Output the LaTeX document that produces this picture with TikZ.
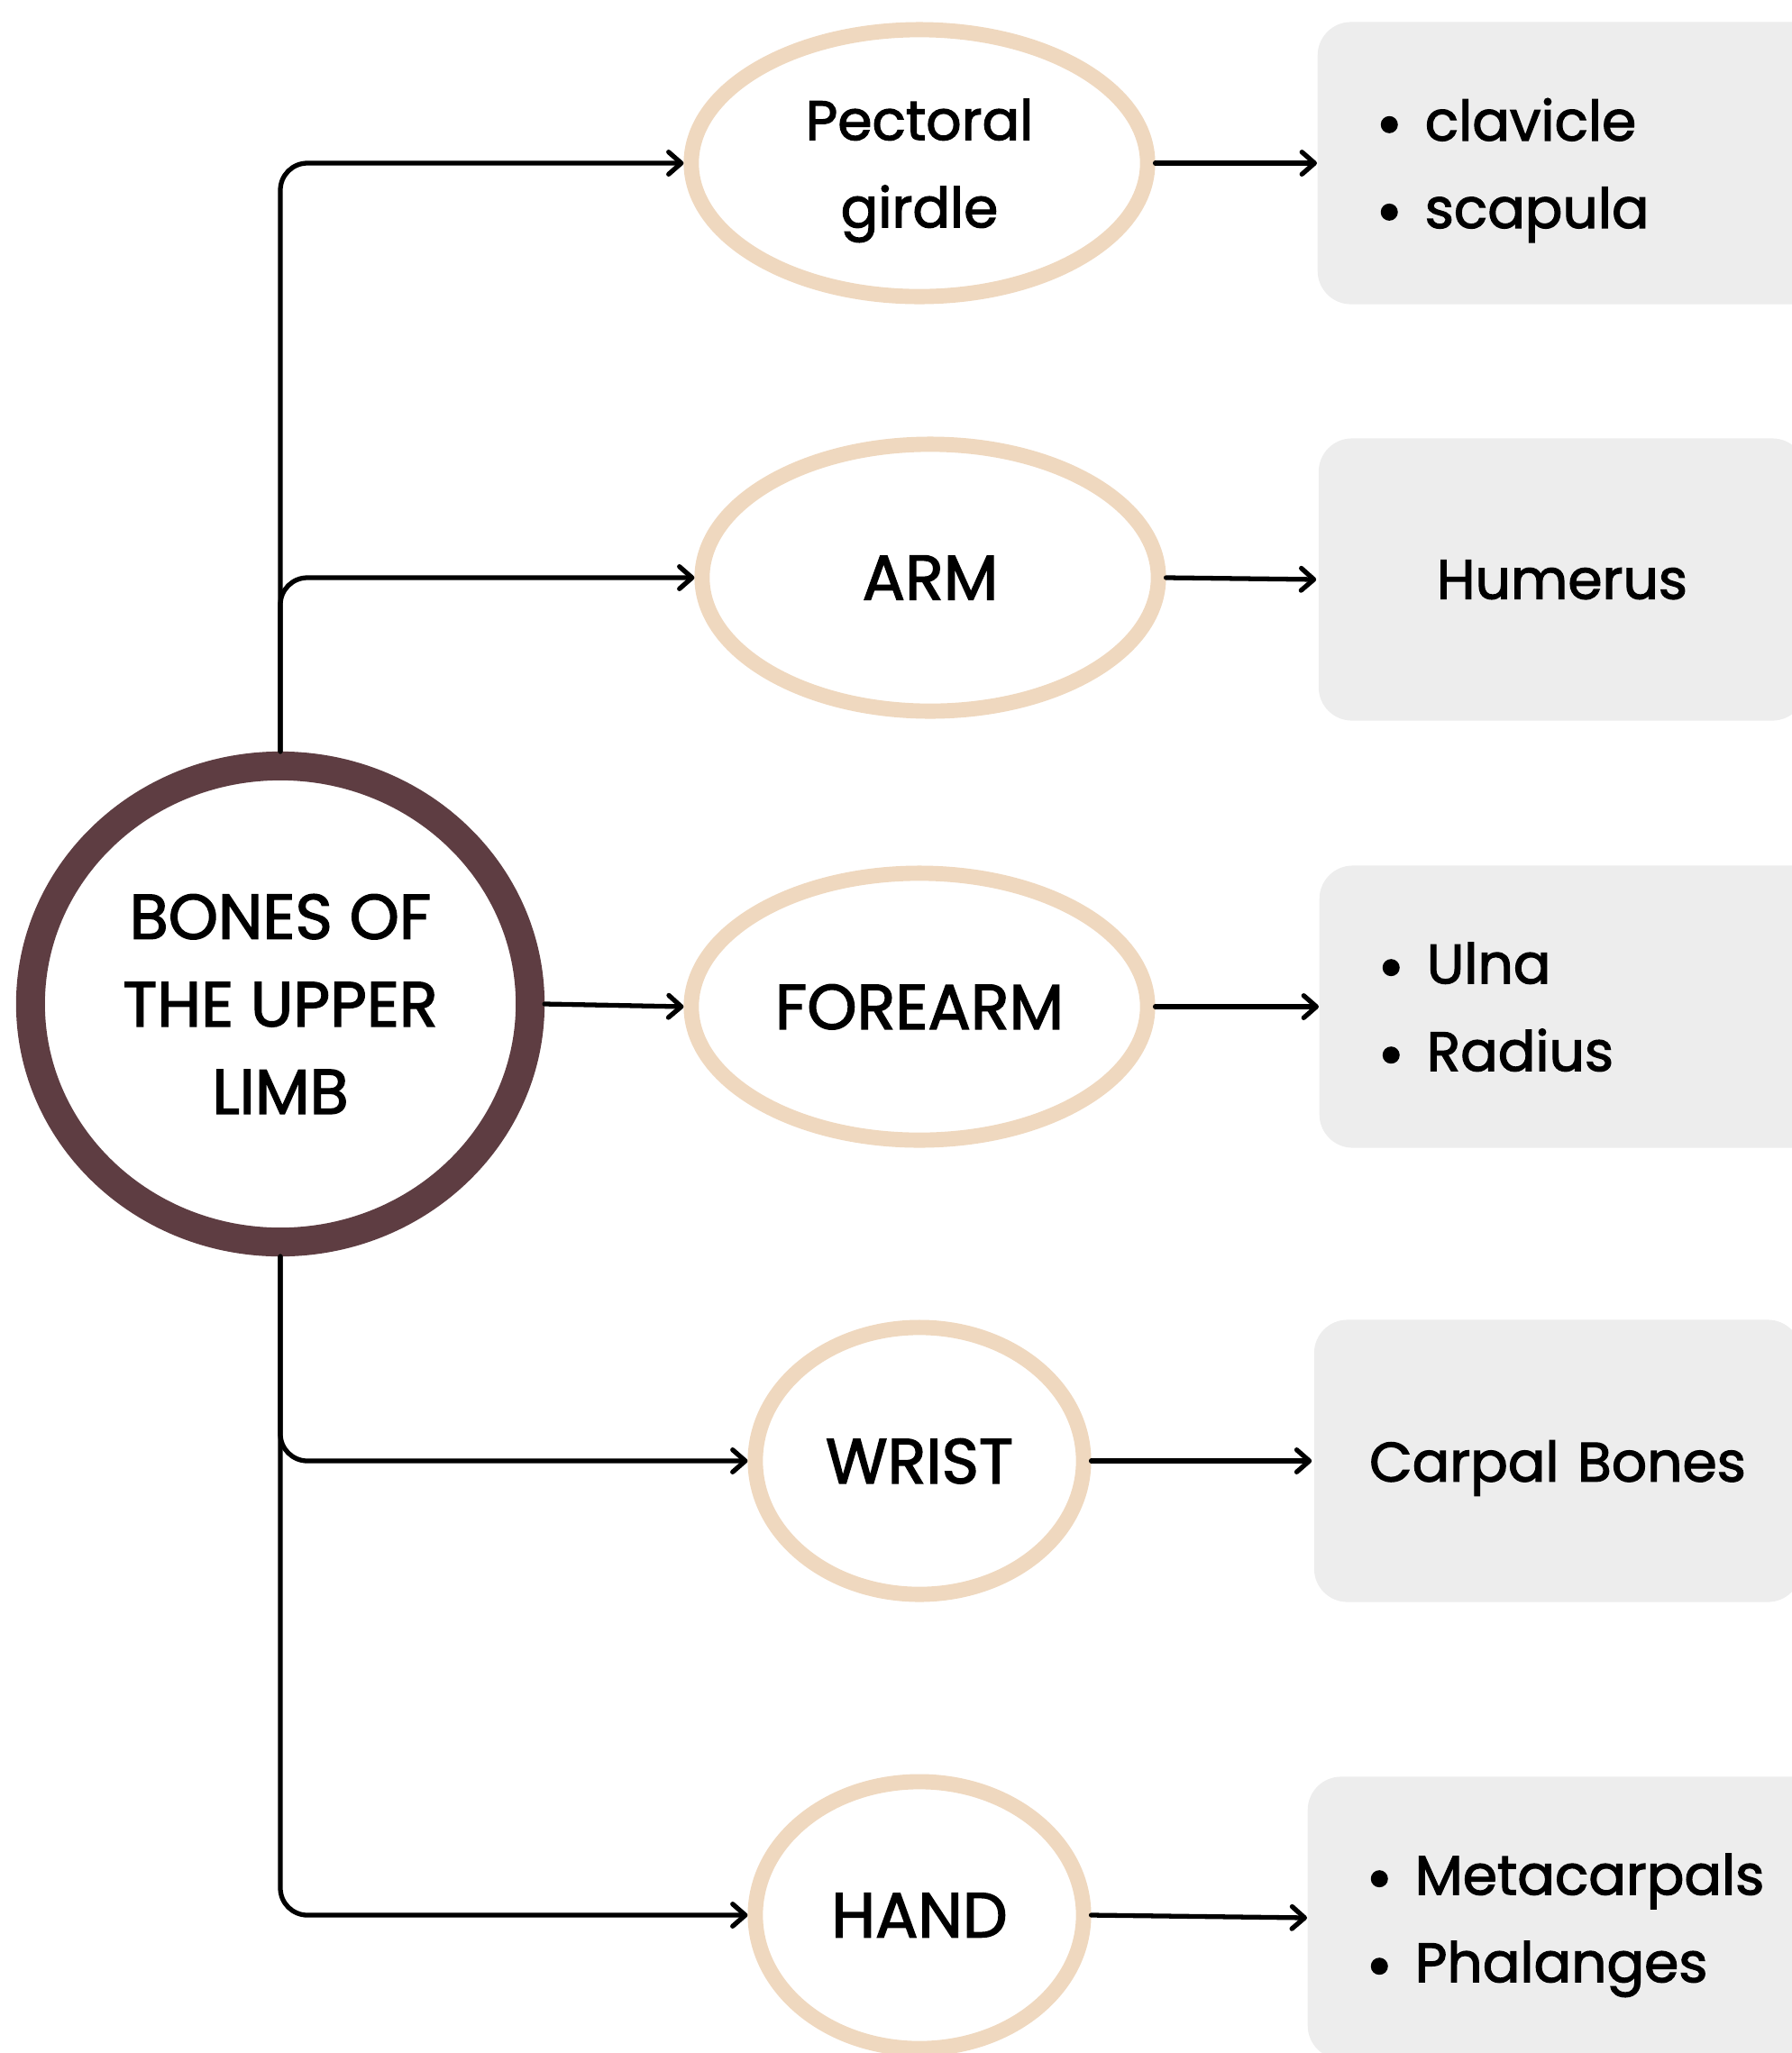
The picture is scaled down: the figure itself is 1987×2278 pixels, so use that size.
\documentclass[tikz,border=0pt]{standalone}
\usepackage{fontspec}
\setmainfont{Poppins}[FakeBold=2]
\usetikzlibrary{shapes.geometric, arrows.meta}
\definecolor{ringbrown}{HTML}{5E3D42}
\definecolor{beige}{HTML}{EFD8BF}
\definecolor{boxgray}{HTML}{EDEDED}
\newcommand\bul{\raisebox{2.3pt}{\tikz\fill circle (0.095cm);}\hspace{0.3cm}}
\tikzset{->,
         >={Straight Barb[length=4pt, width=7pt, round]},
         every node/.style={font=\fontsize{20}{27.6}\selectfont},
         hub/.style={ellipse, draw=ringbrown, line width=9.1pt, fill=white,
                     minimum width=5.54cm, minimum height=5.28cm, inner sep=0pt, align=center},
         part/.style={ellipse, draw=beige, line width=4.8pt, text depth=0pt,
                      minimum width=5.06cm, minimum height=2.96cm, inner sep=0pt, align=center},
         smallpart/.style={part, minimum width=3.64cm},
         lower/.style={font=\fontsize{17.5}{27.6}\selectfont},
         list/.style={rectangle, fill=boxgray, draw=none, rounded corners=0.37cm, lower,
                      minimum height=3.13cm, text width=4.6cm, inner xsep=0.7cm, text depth=27.6pt,
                      anchor=west, align=left},
         single/.style={list, anchor=center, text width=4.2cm, inner xsep=0.6cm, text depth=0pt,
                        align=center},
         branch/.style={rounded corners=0.3cm},
         }

\begin{document}
\begin{tikzpicture}[x=0.01cm, y=-0.01cm, line width=1.5pt, line cap=round]
    \useasboundingbox (0,0) rectangle (1987,2278);

    \node[hub] (limb) at (311,1114) {BONES OF\\THE UPPER\\LIMB};

    \node[part, lower] (girdle) at (1020,181) {Pectoral\\girdle};
    \node[part] (arm) at (1032,641) {ARM};
    \node[part] (forearm) at (1020,1117) {FOREARM};
    \node[smallpart] (wrist) at (1020,1621) {WRIST};
    \node[smallpart] (hand) at (1020,2125) {HAND};

    \node[list] (girdlelist) at (1461,181) {\bul clavicle\\\bul scapula};
    \node[single] (armlist) at (1733,643) {Humerus};
    \node[list] (forearmlist) at (1463,1117) {\bul Ulna\\\bul Radius};
    \node[single] (wristlist) at (1728,1621) {Carpal Bones};
    \node[list] (handlist) at (1450,2128) {\bul Metacarpals\\\bul Phalanges};

    % trunk and branches
    \draw[branch] (limb.north) |- (girdle.west);
    \draw[branch] (limb.north) |- (arm.west);
    \draw (limb.east) -- (forearm.west);
    \draw[branch] (limb.south) |- (wrist.west);
    \draw[branch] (limb.south) |- (hand.west);

    \draw (girdle.east) -- (girdlelist.west);
    \draw (arm.east) -- (armlist.west);
    \draw (forearm.east) -- (forearmlist.west);
    \draw (wrist.east) -- (wristlist.west);
    \draw (hand.east) -- (handlist.west);
\end{tikzpicture}
\end{document}
